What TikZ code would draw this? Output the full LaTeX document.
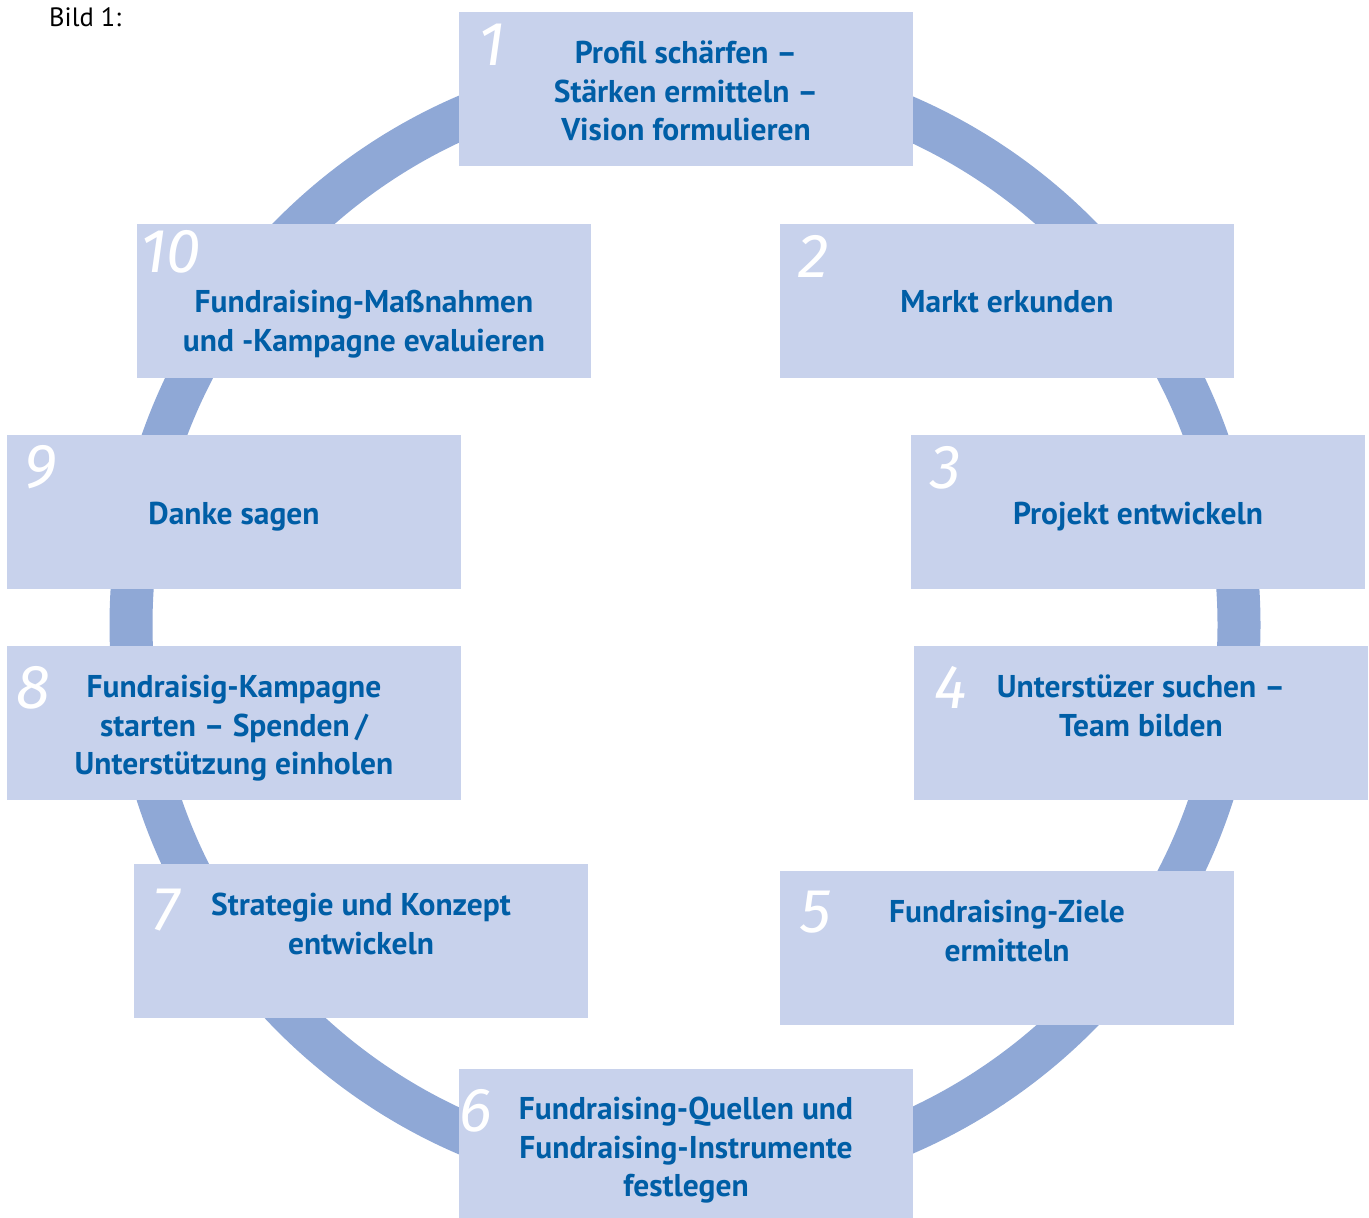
\documentclass[tikz,border=0pt]{standalone}
\usepackage{fontspec}
\setmainfont{PT Sans}
\newfontfamily\numfont{Fira Sans}
\usepackage{tikz}
\usetikzlibrary{positioning}
\definecolor{boxblue}{RGB}{200,210,236}
\definecolor{ringblue}{RGB}{143,168,214}
\definecolor{txtblue}{RGB}{0,94,166}

\begin{document}
\begin{tikzpicture}[x=1pt,y=-1pt,
    box node/.style={rectangle,fill=boxblue,inner sep=0pt,minimum width=454pt,minimum height=154pt},
    num node/.style={anchor=base west,inner sep=0pt,text=white,font=\numfont\itshape\fontsize{62}{62}\selectfont},
    label node/.style={anchor=north,align=center,inner sep=0pt,text=txtblue,
      font=\bfseries\fontsize{31.5}{38.5}\selectfont}]
   \useasboundingbox (0,0) rectangle (1369,1218);
   \node[anchor=base west,inner sep=0pt,font=\fontsize{26.5}{30}\selectfont] (title) at (49,27) {Bild 1:};
   % ring behind the boxes
   \draw[ringblue,line width=43pt] (685,625) circle[radius=554pt];
   \begin{scope}
     \node[box node] (b1) at (686,89) {};
     \node[box node] (b2) at (1007,301) {};
     \node[box node] (b3) at (1138,512) {};
     \node[box node] (b4) at (1141,723) {};
     \node[box node] (b5) at (1007,948) {};
     \node[box node] (b6) at (686,1146) {};
     \node[box node] (b7) at (361,941) {};
     \node[box node] (b8) at (234,723) {};
     \node[box node] (b9) at (234,512) {};
     \node[box node] (b10) at (364,301) {};

     \node[num node] (n1) at (478,65) {1};
     \node[num node] (n2) at (798,277) {2};
     \node[num node] (n3) at (930,488) {3};
     \node[num node] (n4) at (934,708) {4};
     \node[num node] (n5) at (800,932) {5};
     \node[num node] (n6) at (459,1131) {6};
     \node[num node] (n7) at (152,930) {7};
     \node[num node] (n8) at (16,708) {8};
     \node[num node] (n9) at (24,487) {9};
     \node[num node] (n10) at (140,272) {10};

     \node[label node] (t1) at (686,41) {Profil schärfen --\\Stärken ermitteln --\\Vision formulieren};
     \node[label node] (t2) at (1007,290) {Markt erkunden};
     \node[label node] (t3) at (1138,502) {Projekt entwickeln};
     \node[label node] (t4) at (1141,675) {Unterstüzer suchen --\\Team bilden};
     \node[label node] (t5) at (1007,900) {Fundraising-Ziele\\ermitteln};
     \node[label node] (t6) at (686,1097) {Fundraising-Quellen und\\Fundraising-Instrumente\\festlegen};
     \node[label node] (t7) at (361,893) {Strategie und Konzept\\entwickeln};
     \node[label node] (t8) at (234,675) {Fundraisig-Kampagne\\starten -- Spenden\,/\\Unterstützung einholen};
     \node[label node] (t9) at (234,502) {Danke sagen};
     \node[label node] (t10) at (364,290) {Fundraising-Maßnahmen\\und -Kampagne evaluieren};
   \end{scope}
\end{tikzpicture}
\end{document}
